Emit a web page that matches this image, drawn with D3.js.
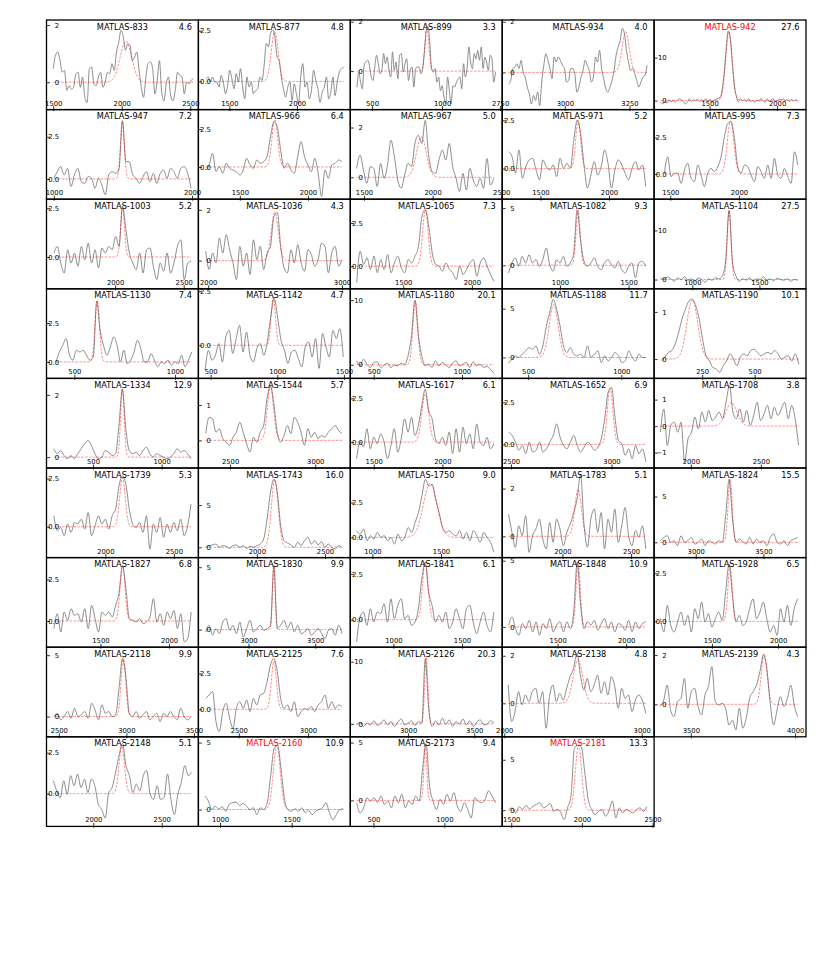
<!DOCTYPE html>
<html>
<head>
<meta charset="utf-8">
<script src="https://cdnjs.cloudflare.com/ajax/libs/d3/7.8.5/d3.min.js"></script>
<style>
  body { margin: 0; background: #fff; }
  svg { display: block; }
  text { font-family: "DejaVu Sans", sans-serif; }
</style>
</head>
<body>
<svg class="chart" width="831" height="955"></svg>
<script>
// Galaxias, SNR y marcadas en rojo
var names = ["MATLAS-833","MATLAS-877","MATLAS-899","MATLAS-934","MATLAS-942",
  "MATLAS-947","MATLAS-966","MATLAS-967","MATLAS-971","MATLAS-995",
  "MATLAS-1003","MATLAS-1036","MATLAS-1065","MATLAS-1082","MATLAS-1104",
  "MATLAS-1130","MATLAS-1142","MATLAS-1180","MATLAS-1188","MATLAS-1190",
  "MATLAS-1334","MATLAS-1544","MATLAS-1617","MATLAS-1652","MATLAS-1708",
  "MATLAS-1739","MATLAS-1743","MATLAS-1750","MATLAS-1783","MATLAS-1824",
  "MATLAS-1827","MATLAS-1830","MATLAS-1841","MATLAS-1848","MATLAS-1928",
  "MATLAS-2118","MATLAS-2125","MATLAS-2126","MATLAS-2138","MATLAS-2139",
  "MATLAS-2148","MATLAS-2160","MATLAS-2173","MATLAS-2181"];

var snr = [4.6,4.8,3.3,4.0,27.6, 7.2,6.4,5.0,5.2,7.3, 5.2,4.3,7.3,9.3,27.5,
  7.4,4.7,20.1,11.7,10.1, 12.9,5.7,6.1,6.9,3.8, 5.3,16.0,9.0,5.1,15.5,
  6.8,9.9,6.1,10.9,6.5, 9.9,7.6,20.3,4.8,4.3, 5.1,10.9,9.4,13.3];

var flagged = ["MATLAS-942","MATLAS-2160","MATLAS-2181"];

// Limites de los ejes (velocidad km/s, flujo mJy)
var xDomains = [[1451,2559],[1271,2394],[345,1429],[2758,3345],[1089,2214],
  [947,2046],[1196,2311],[1400,2507],[1221,2329],[1382,2489],
  [1500,2607],[1927,3062],[1114,2221],[579,1686],[715,1847],
  [362,1116],[408,1548],[367,1228],[361,1176],[21,745],
  [161,1268],[2314,3206],[1329,2436],[2456,3212],[1738,2822],
  [1571,2679],[1571,2686],[839,1946],[1561,2668],[2692,3815],
  [1107,2214],[2624,3763],[686,1793],[1096,2204],[1063,2211],
  [2409,3533],[2208,3306],[2563,3711],[1985,3090],[3324,4052],
  [1658,2768],[849,1909],[337,1408],[1436,2511]];

var yDomains = [[-0.96,2.18],[-1.39,3.03],[-1.56,2.07],[-1.47,2.07],[-2.1,18.75],
  [-1.2,4.11],[-2.13,3.79],[-0.88,2.72],[-1.58,3.05],[-1.73,4.41],
  [-1.63,2.96],[-1.11,2.42],[-1.31,3.88],[-2.06,5.78],[-1.89,16.35],
  [-1.06,4.7],[-1.53,2.61],[-2.1,11.74],[-2.14,7.04],[-0.41,1.49],
  [-0.35,2.53],[-0.78,1.75],[-1.48,3.64],[-1.4,3.92],[-1.58,1.8],
  [-1.6,3.05],[-1.22,9.4],[-1.45,4.98],[-0.89,2.86],[-1.67,8.12],
  [-1.58,3.82],[-1.41,5.77],[-1.5,3.39],[-1.53,5.23],[-1.34,3.31],
  [-1.65,5.65],[-1.92,4.33],[-2.09,12.35],[-1.41,2.36],[-1.32,2.32],
  [-2.0,3.47],[-1.26,5.43],[-2.25,5.5],[-1.61,7.28]];

var xTicks = [[1500,2000,2500],[1500,2000],[500,1000],[2750,3000,3250],[1500,2000],
  [1000,2000],[1500,2000],[1500,2000,2500],[1500,2000],[1500,2000],
  [2000,2500],[2000,3000],[1500,2000],[1000,1500],[1000,1500],
  [500,1000],[500,1000,1500],[500,1000],[500,1000],[250,500],
  [500,1000],[2500,3000],[1500,2000],[2500,3000],[2000,2500],
  [2000,2500],[2000,2500],[1000,1500],[2000,2500],[3000,3500],
  [1500,2000],[3000,3500],[1000,1500],[1500,2000],[1500,2000],
  [2500,3000,3500],[2500,3000],[3000,3500],[2000,3000],[3500,4000],
  [2000,2500],[1000,1500],[500,1000],[1500,2000,2500]];

var yTicks = [[0,2],[0,2.5],[0,2],[0,2],[0,10],
  [0,2.5],[0,2.5],[0,2],[0,2.5],[0,2.5],
  [0,2.5],[0,2],[0,2.5],[0,5],[0,10],
  [0,2.5],[0,2.5],[0,10],[0,5],[0,1],
  [0,2],[0,1],[0,2.5],[0,2.5],[-1,0,1],
  [0,2.5],[0,5],[0,2.5],[0,2],[0,5],
  [0,2.5],[0,5],[0,2.5],[0,5],[0,2.5],
  [0,5],[0,2.5],[0,10],[0,2],[0,2],
  [0,2.5],[0,5],[0,5],[0,5]];

// Primer y ultimo canal de cada espectro
var velRange = [[1500,2522],[1328,2345],[393,1381],[2783,3318],[1138,2153],
  [1000,1993],[1250,2250],[1446,2446],[1268,2268],[1457,2429],
  [1554,2554],[1982,3000],[1161,2161],[625,1625],[763,1785],
  [409,1083],[458,1495],[403,1180],[395,1132],[56,710],
  [214,1214],[2357,3157],[1375,2375],[2488,3171],[1783,2769],
  [1625,2625],[1625,2625],[886,1886],[1607,2607],[2739,3754],
  [1161,2161],[2679,3701],[732,1732],[1143,2143],[1111,2148],
  [2464,3478],[2261,3246],[2611,3648],[2029,3029],[3354,4012],
  [1708,2719],[895,1860],[382,1361],[1483,2460]];

// Flujo por canal
var flux = [
  [0.47,0.94,1.06,0.76,0.35,0.41,-0.29,-0.12,-0.24,-0.18,0.29,0.35,-0.18,0.18,-0.53,-0.71,0.47,0.53,-0.06,-0.12,0.18,0.35,-0.18,0,0.35,0.29,0.65,0.41,1.06,1.41,1.82,1.59,1.12,1.35,1.29,0.76,0.88,1.06,0.41,-0.18,-0.53,0.18,0.65,0.71,0.47,-0.41,0.06,0.76,-0.35,-0.65,-0.06,0.18,-0.47,-0.65,-0.29,0.35,0.24,0.18,-0.41,0,-0.06,0.06,0.12],
  [0.13,0.22,-0.03,0.22,-0.03,-0.03,-0.28,0.30,-0.03,-0.61,-0.20,0.55,0.13,-0.36,0.38,-0.03,0.63,-0.28,-0.86,0.22,-0.28,-0.03,-0.61,-0.45,-0.36,0.22,0.05,0.79,1.87,1.71,2.37,2.53,2.20,1.21,1.04,0.22,-0.36,-0.78,-0.28,-0.03,-0.94,-0.12,-0.61,-1.11,0.22,0.88,-0.28,-0.03,-0.86,-0.45,0.55,0.05,-0.36,-1.03,-0.53,-0.28,0.22,-0.86,-0.53,0.22,-0.70,-0.03,0.46,0.63,0.71],
  [-0.65,-0.04,-0.45,-0.72,0.23,0.37,0.44,0.23,-0.24,-0.38,0.16,0.64,0.30,-0.11,0.03,0.71,0.30,0.57,0.03,-0.24,0.78,0.03,0.37,-0.31,0.64,0.71,-0.04,0.30,0.50,-0.38,0.03,0.16,-0.65,0.10,0.16,0.16,-0.11,0.10,0.84,1.66,1.80,1.12,0.10,-0.04,0.10,-0.45,-0.24,-0.79,-0.59,-1.06,-1.33,-0.24,-0.79,-1.33,-0.59,-0.65,-0.45,-0.31,-0.24,-0.72,0.30,-0.24,0.10,0.98,0.37,0.10,0.71,0.50,0.84,0.44,0.98,0.10,0.57,0.37,0.03,0.64,0.50,-0.45,-0.04],
  [-0.45,-0.32,0.15,0.21,0.34,0.15,0.48,0.01,-0.19,-0.58,-0.85,-1.25,-0.91,-1.11,-0.78,-1.31,-0.38,0.28,0.74,0.48,0.15,-0.25,0.61,0.41,0.61,0.48,0.28,0.15,-0.38,-0.32,0.15,0.15,-0.05,-0.78,-0.58,-0.19,0.08,0.48,0.28,0.08,-0.38,-0.19,0.61,0.41,0.87,0.15,-0.25,-0.65,-0.78,-0.58,-0.32,0.08,0.68,1.01,1.27,1.74,1.54,0.87,0.41,0.08,0.15,-0.05,-0.32,-0.58,-0.38,-0.19,-0.12,0.28],
  [-0.4,-0.8,-0.2,-0.6,0.2,-0.4,0.2,-0.4,0,0.4,0.2,-0.2,-0.8,-0.4,0.4,-0.2,0.2,0,0.3,-0.2,0.2,0,0.4,-0.3,0.3,-0.5,0.1,0.2,0.6,0.7,2.4,6.4,12.0,16.2,14.5,8.8,3.4,0.9,-0.3,0.4,0,0.2,-0.2,0.4,-0.2,0,-0.4,0.2,-0.2,0.5,0,-0.4,0.4,-0.2,0.2,0.4,-0.2,0,0.3,0.2,0.4,0,0.2,-0.2,0.3,-0.1,0.2,-0.2],
  [0.04,0.43,0.73,0.24,0.63,-0.45,0.24,0.63,-0.16,-0.26,0.14,0.04,-0.55,0.04,-0.35,-0.94,0.24,0.43,0.33,0.6,3.46,1.02,1.02,0.24,0.04,-0.26,0.14,0.43,-0.16,0.33,-0.26,0.33,0.53,0.04,0.63,0.43,0.04,0.63,0.73,0.33,-0.55],
  [-0.2,0.13,0.9,-0.31,0.02,-0.42,0.24,-0.09,-0.2,-0.31,-0.53,-0.2,0.57,0.13,-0.09,0.46,0.24,0.35,0.68,2.0,2.98,2.65,1.1,-0.09,0.24,-0.2,-0.42,0.68,1.67,0.68,0.13,-0.31,0.57,-0.42,-1.95,-0.2,-0.75,0.13,0.24,0.46,0.35],
  [0.36,0.89,0.29,-0.24,0.43,0.36,-0.37,0.56,-0.04,0.49,1.49,0.83,-0.11,-0.44,0.09,0.56,0.43,1.36,1.69,1.36,2.29,0.89,0.23,0.16,0.69,1.09,0.69,1.36,0.43,-0.04,-0.57,0.16,-0.51,0.36,-0.11,-0.37,-0.04,-0.44,0.76,-0.31,-0.04],
  [0.87,0.62,-0.24,0.96,-0.5,0.1,0.45,0.53,-0.07,-0.58,0.45,0.1,-0.07,0.19,-0.41,0.53,0.02,0.27,0.02,1.47,2.5,1.81,0.19,-1.01,-0.33,0.36,-0.33,0.1,0.96,0.27,-1.01,-0.07,0.45,0.19,-0.24,-0.58,0.02,0.36,-0.07,0.19,-0.92],
  [0.05,1.18,-0.18,0.05,0.05,-0.64,0.27,0.73,-0.3,-0.52,0.61,-0.07,-0.86,0.05,0.39,0.16,0.5,1.18,2.55,3.45,3.57,2.45,0.5,0.05,0.61,0.5,-0.07,-0.52,0.5,0.16,-0.3,0.61,-0.3,1.07,-0.07,-0.3,0.39,-0.18,-0.64,1.52,0.61],
  [0.2,0.54,-0.31,-0.82,0.37,-0.31,0.2,-0.48,0.54,-0.14,0.71,-0.31,0.37,-0.56,0.46,0.2,0.54,0.37,1.05,0.54,2.59,1.39,0.2,-0.31,-0.65,0.2,-0.82,0.37,0.46,-0.48,-1.16,-0.31,-0.73,0.2,-0.82,-0.31,0.54,0.88,-1.16,-0.31,-0.22],
  [0.37,-0.35,0.3,-0.09,0.89,0.3,1.02,0.43,-0.09,-0.75,0.56,-0.22,0.3,-0.55,0.82,0.04,0.56,-0.35,0.3,0.56,1.74,1.9,0.56,-0.29,-0.48,0.43,-0.09,0.63,-0.09,-0.42,0.43,0.24,-0.22,0.04,0.69,0.56,-0.48,0.3,0.56,-0.22,0.04],
  [-0.96,0.87,0.1,0.48,-0.19,0.58,-0.38,0.38,-0.19,0.67,-0.38,0.19,0.58,-0.1,-0.38,0.38,0.19,0.58,1.15,2.88,3.27,2.31,0.77,0.1,0,-0.29,0.19,-0.19,-0.38,-0.77,0,-0.48,-0.19,0.19,0.38,-0.58,0.19,0.48,0,-0.48,-0.87],
  [-0.67,0.2,0.64,-0.09,0.78,0.2,0.93,0.2,0.49,-0.09,0.49,1.51,0.06,-0.52,0.49,0.2,0.78,-0.09,0.2,1.08,4.85,2.21,0.35,-0.09,0.2,0.64,-0.09,-0.38,0.2,0.49,0.06,-0.23,0.35,-0.38,-0.67,-0.09,0.2,-1.1,0.2,0.35,-0.09],
  [0.34,0,0.54,0.14,-0.34,0.34,0,0.54,-0.14,0.14,-0.34,0.34,0,-0.54,0.14,-0.14,0.34,0.14,0.68,4.0,14.05,3.5,0.68,-0.34,0.14,-0.14,0.34,-0.34,0.14,0,0.54,-0.14,0.14,-0.27,0.27,0,-0.14,0.14,-0.34,0,-0.14],
  [0,0.64,1.07,1.5,0.43,0.11,0.75,0.64,0.75,0.43,0.11,0.32,3.91,2.03,1.07,0.43,0.96,1.6,1.07,0,0.75,-0.11,0.11,0.64,1.39,0.85,0,0,0.53,0.11,-0.32,0,-0.11,0.11,-0.21,0,-0.11,0.43,-0.32,0.11,0.64],
  [-1.15,-0.23,-0.69,-0.46,0.08,-0.77,0.38,0.69,-0.38,0.31,0.92,-0.31,0.61,-0.46,-0.77,-0.15,0.08,-0.46,0.15,1.3,2.19,1.3,0.23,-0.23,-0.84,-0.31,-0.23,-0.61,-1.0,-0.08,0.15,-0.54,0.31,-1.07,0.54,-0.08,-0.54,0.69,0.31,0.77,-0.54],
  [0.62,-0.15,0.87,0.1,-0.41,0.36,0.46,-0.41,-0.05,0.26,-0.41,-0.05,-0.15,0.26,0.05,1.38,4.5,10.0,4.5,1.38,-0.15,0.1,-0.41,0.62,-0.15,0.36,-0.05,-0.41,0.26,0.62,-0.15,0.1,0.36,-0.41,0.46,-0.15,0.1,-0.41,-0.26,-0.67,-1.28],
  [-0.58,-0.17,0.17,0,0.34,0.68,1.02,0.85,1.19,0.34,1.19,3.23,4.59,5.95,4.93,3.23,1.19,0.51,1.02,0.34,0.17,0.34,0,1.19,0,0.34,0.68,-0.51,0.17,-0.34,0,0.51,0.17,-0.51,-0.34,0.68,0,-0.34,0.34,0,0],
  [-0.04,0.04,0.14,0.18,0.32,0.56,0.85,1.06,1.23,1.27,1.13,0.85,0.42,0.07,-0.04,-0.18,-0.21,-0.28,-0.14,-0.04,0.11,0,-0.14,0.04,0.11,0.07,0.18,0.21,0.14,0.07,0.11,0.14,0.11,0.18,0.11,0,0.04,0.07,-0.04,0.11,-0.11],
  [0.27,0.11,0.21,0.05,-0.05,0.05,-0.05,0.11,0.27,0.43,0.53,0.37,0.11,-0.05,0,0.21,0.16,0.05,0.11,1.02,2.19,0.91,0.21,0.11,0.16,0.05,0.21,0.32,0.11,0,0.11,0.05,0,-0.05,0,0.11,0.27,0.16,0.21,0.11,-0.05],
  [0.19,0.65,0.61,0.23,0.33,0.05,-0.05,-0.14,0.09,0.23,0.51,0.23,-0.09,-0.33,0.09,-0.05,0.23,0.42,1.17,1.54,1.03,0.23,-0.05,0.14,0.42,0.19,0.65,0.51,0.23,-0.14,0.33,0.09,0.23,0.05,0.14,0.09,0.23,0.33,0.42,0.28,0.19],
  [-0.95,0,-0.28,0.76,-0.38,0.28,-0.09,0.47,0,-0.95,-0.19,0.76,-0.57,0.19,1.33,0.57,1.42,0.38,0.95,2.08,3.03,1.8,1.33,0.19,-0.09,0.28,-0.19,0.57,-0.66,0.76,-0.57,0.85,-0.09,0.47,-0.38,1.04,0,-0.19,0.28,-0.38,-0.09],
  [0.73,0.53,0.14,-0.35,-0.06,-0.55,0.14,-0.45,-0.35,0.14,-0.45,-0.26,0.14,0.53,1.22,0.43,-0.06,-0.26,0.14,0.53,-0.06,-0.45,-0.16,0.14,-0.06,-0.35,-0.16,0.33,1.52,3.09,3.39,1.61,0.24,0.04,-0.65,-0.26,-0.85,-0.06,-0.55,-0.26,-1.04],
  [-0.23,0.65,-0.73,0.03,0.15,-0.23,0.15,-1.35,-0.48,-0.23,0.34,-0.1,0.53,0.15,0.59,0.21,0.34,0.53,0.28,0.9,1.53,0.53,0.28,0.65,0.15,0.59,0.03,0.4,0.9,0.21,0.46,0.78,0.28,0.71,0.4,0.65,0.9,0.28,0.78,0.28,-0.73],
  [0.57,-0.21,-0.03,-0.47,0.14,-0.29,0.22,0.14,0.4,-0.12,0.74,-0.47,0.05,0.57,0.14,0.4,-0.12,0.57,0.91,2.12,2.64,2.21,0.91,0.14,-0.03,0.22,-0.29,0.57,-1.16,0.14,-0.29,0.48,-0.55,0.14,-0.29,0.22,-0.21,0.4,-0.47,0.05,1.17],
  [0,0.2,0.28,0.39,0,0.2,0.12,-0.12,0.2,0.28,0,0.2,-0.12,0.12,0,0.2,0.39,0.98,3.35,6.5,8.07,6.5,2.56,0.79,0.51,0.28,0,0.59,0.2,0.79,1.18,0.39,0.79,0.28,0.67,0,0.39,0,-0.2,0.2,0],
  [0.48,0.24,0.6,-0.24,0.12,-0.12,0.36,0,0.12,-0.24,0,-0.48,0.24,-0.24,0,0.71,0.36,1.07,1.79,2.98,4.17,3.69,3.81,2.74,1.79,0.71,0.36,0.48,0.24,0.12,0.48,-0.12,0.36,-0.24,0.48,0.12,-0.36,0.36,0,-0.36,-1.07],
  [0.93,0.17,-0.46,0.44,0.03,0.86,-0.67,0.03,0.31,0.72,-0.11,-0.53,0.58,-0.25,0.72,0.31,-0.39,0.17,0.51,1.0,1.56,2.6,0.51,-0.46,0.72,1.14,0.17,1.0,-0.53,0.72,0.17,1.14,-0.25,0.44,1.21,0.03,-0.39,0.24,-0.04,0.44,-0.53],
  [0.18,0.54,0.72,0,0.18,-0.36,0.72,0,0.18,0.54,-0.18,0,0.36,-0.36,0.18,0,-0.18,0.18,0,2.9,6.88,2.54,0,0.36,0.07,-0.18,0.54,-0.18,0.36,0,0.18,-0.36,0.54,0.91,0,-0.18,0.18,-0.36,0.18,0.36,0.54],
  [-0.46,0.44,-0.66,0.54,0.04,0.74,0.34,0.44,-0.06,0.74,-0.46,0.94,0.14,-0.66,0.54,0.34,0.54,0.24,0.94,1.74,3.34,1.94,0.14,0.04,-0.06,0.14,-0.16,-0.06,0.24,1.34,-0.06,0.44,-0.26,0.54,0.14,0.64,-0.46,0.44,-1.26,-1.06,0.54],
  [-0.19,0.35,-0.45,0.08,-0.32,0.61,0.88,-0.05,0.35,-0.32,0.61,-0.59,0.08,0.74,-0.19,0.08,0.35,-0.05,0.08,0.35,5.13,0.08,0.35,0.74,0.08,0.61,-0.19,0.35,-0.32,-0.19,0.08,-0.45,-0.19,0.08,-0.32,-0.72,-0.05,0.08,-0.45,0.35,-0.32],
  [-1.21,0.14,0.42,-0.31,0.6,-0.13,0.42,0.33,0.87,-0.13,1.14,0.05,0.78,1.14,0.05,0.24,-0.31,-0.13,0.6,2.23,3.13,1.49,0.78,-0.13,0.24,-0.13,0.42,-0.49,-0.13,0.6,0.05,-0.49,0.6,0.78,-0.13,-0.76,-0.13,0.42,-0.31,-0.67,0.42],
  [0.13,0.75,-0.13,-0.63,0.25,-0.13,0.5,-0.38,0.38,-0.63,0.25,-0.13,0.63,-0.38,0.13,0.38,-0.38,0.38,-0.13,1.13,4.88,1.63,-0.13,0.38,0.13,0.5,-0.25,0.25,0.63,-0.13,0.38,-0.38,0.25,0.13,-0.25,0.5,-0.38,0.38,-0.13,0.25,0.38],
  [0.14,-0.55,0.83,-0.21,-0.55,-0.03,0.48,-0.21,0.31,-0.55,0.66,0.14,1.0,-0.03,0.4,-0.29,0.14,0.48,0.05,1.52,2.98,1.34,-0.03,0.31,-0.21,-0.03,0.66,1.17,0.14,0.48,1.0,0.14,-0.55,-0.21,-0.72,0.66,-0.03,0.83,-0.21,0.66,1.17],
  [0,0.27,-0.27,0,0.41,-0.14,0.68,0,0.14,0.41,-0.14,1.08,0.54,-0.27,0.95,0.27,0.41,0,0.14,2.3,4.73,3.24,0.27,0,0.41,-0.14,0.14,0.41,-0.27,0,0.27,-0.41,0.27,0,0.41,0,-0.27,0.68,0,-0.27,0],
  [0.76,1.0,1.23,-0.86,-1.55,-0.16,0.42,-0.62,-1.32,0.07,0.53,0.07,0.65,-0.16,0.76,0.3,1.0,1.11,1.92,3.08,3.54,2.62,0.76,0.07,0.3,-0.16,0.53,-0.51,-0.16,0.07,-0.05,0.19,-0.16,0.3,0.53,1.0,0.07,0.53,0.07,0.3,0.19],
  [-0.16,0.27,-0.43,0.11,-0.16,0.48,-0.27,0.11,0.64,-0.16,0.37,-0.43,0.27,0.8,-0.16,0.11,0.48,-0.27,0.37,0.11,10.5,2.5,-0.43,0.48,-0.16,0.91,-0.05,0.64,-0.43,0.37,-0.05,0.8,-0.16,0.48,-0.43,0.27,0.64,-0.16,-0.05,0.48,0.11],
  [0.77,-0.77,-0.32,0.49,-0.07,0.35,0.07,0.49,0.63,0,0.49,-1.05,0.28,0.77,0.07,0.42,0.14,0.63,1.12,1.47,2.1,1.19,0.56,1.05,0.49,0.77,1.19,0.42,0.91,0.35,1.12,0.7,-0.21,0.63,0.21,0.35,-0.35,0.14,0.35,0.14,-0.42],
  [-0.09,0.18,0.78,-0.24,-0.5,0.11,0.24,1.05,-0.16,0.51,0.65,-0.09,-0.43,0.38,0.72,1.53,0.11,-0.03,0.04,-0.16,-0.84,-0.64,-1.04,-0.16,-0.97,-0.57,0.24,0.51,0.78,1.32,2.0,1.46,0.04,-0.84,-0.23,0.31,-0.09,0.24,0.78,-0.03,-0.5],
  [0.79,0.17,-0.25,0.79,-0.04,1.1,0.48,1.2,0.37,0.89,0.06,0.89,0.48,-0.66,-0.97,-1.49,0.06,0.37,1.3,2.33,3.06,1.71,1.1,0.06,0.58,0.17,1.1,1.41,-0.04,-0.35,0.48,-0.35,-0.25,1.2,-0.35,-1.28,-0.04,0.68,1.71,1.1,1.3],
  [1.01,0.63,0,0.25,0.05,0.2,-0.13,0.38,0.51,0.56,0.3,0.45,0.25,0,0.13,-0.38,0.13,0,0.51,2.53,4.55,4.8,3.03,0.76,0,-0.13,0.05,-0.13,0.13,-0.25,-0.05,-0.38,-0.13,0,0.13,0.51,-0.25,-0.76,-0.38,0,0.05],
  [-0.2,-1.08,-0.64,0.23,-0.06,0.23,-0.2,0.38,-0.35,-0.06,-0.64,0.38,-0.2,0.53,-0.64,-0.06,-0.35,0.38,-0.06,2.75,4.91,1.26,-0.06,-0.79,0.09,-0.35,0.53,-0.06,0.67,-0.5,-0.94,-0.2,-0.79,-1.52,0.23,-0.06,-0.2,0.09,0.82,0.38,-0.2],
  [0.07,0.23,-0.27,0.34,0.07,0.47,0.13,0.4,0.57,0.74,0.23,0.4,0.67,-0.1,0.07,-0.2,-0.94,0.23,1.41,6.11,6.44,6.27,3.76,1.07,0.07,-0.44,-0.1,0.07,-0.6,-0.1,0.91,-0.77,0.23,-0.27,0.07,-0.1,-0.27,0.07,0.23,-0.1,0.34]
];

// Ajuste gaussiano: amplitud, centro, sigma
var fitAmp = [1.44,2.45,1.73,1.6,16.0, 3.39,3.14,1.63,2.5,3.64, 2.58,1.9,3.27,4.85,14.05,
  3.96,2.23,9.85,5.44,1.25, 2.19,1.54,2.75,3.33,0.88, 2.55,8.07,3.88,1.97,6.96,
  3.34,5.13,3.13,5.0,2.9, 4.86,3.36,10.8,1.82,2.07, 2.91,4.8,4.91,6.44];
var fitCen = [2030,1835,892,3235,1643, 1496,1757,1918,1775,1939, 2054,2498,1661,1132,1274,
  614,970,736,637,203, 714,2737,1875,2993,2290, 2125,2132,1421,2114,3254,
  1661,3190,1232,1650,1637, 2978,2754,3137,2536,3852, 2208,1396,866,1976];
var fitSig = [42,25,14,14,24, 14,21,36,18,24, 14,27,20,15,14,
  11,16,14,24,26, 13,18,25,14,40, 20,25,50,24,15,
  18,10,20,15,16, 17,18,12,35,14, 20,24,10,22];

// Tamaño de la grilla
var margin = {top: 20, left: 46.5},
    panelW = 151.9,
    panelH = 89.6,
    ncol = 5;

var svg = d3.select(".chart");

names.forEach(function(name, i) {
  var col = i % ncol, row = Math.floor(i / ncol);
  var x0 = margin.left + col * panelW,
      y0 = margin.top + row * panelH;

  var x = d3.scaleLinear().domain(xDomains[i]).range([x0, x0 + panelW]);
  var y = d3.scaleLinear().domain(yDomains[i]).range([y0 + panelH, y0]);

  var g = svg.append("g").attr("class", "panel");

  var v0 = velRange[i][0], v1 = velRange[i][1], n = flux[i].length;
  var spec = flux[i].map(function(f, k) { return [v0 + (v1 - v0) * k / (n - 1), f]; });

  var line = d3.line()
      .x(function(d) { return x(d[0]); })
      .y(function(d) { return y(d[1]); });

  g.append("path")
      .datum(spec)
      .attr("d", line.curve(d3.curveMonotoneX))
      .attr("fill", "none")
      .attr("stroke", "#7a7a7a")
      .attr("stroke-width", 0.85);

  // modelo del ajuste
  var model = d3.range(0, 241).map(function(k) {
    var v = v0 + (v1 - v0) * k / 240;
    return [v, fitAmp[i] * Math.exp(-0.5 * Math.pow((v - fitCen[i]) / fitSig[i], 2))];
  });
  g.append("path")
      .datum(model)
      .attr("d", line.curve(d3.curveLinear))
      .attr("fill", "none")
      .attr("stroke", "red")
      .attr("stroke-opacity", 0.5)
      .attr("stroke-width", 0.9)
      .attr("stroke-dasharray", "2.6,1.3");

  // Eje x (etiquetas dentro del panel)
  var xAxis = d3.axisTop(x)
      .tickValues(xTicks[i])
      .tickSize(3.5)
      .tickSizeOuter(0)
      .tickFormat(d3.format("d"));
  g.append("g")
      .attr("transform", "translate(0," + (y0 + panelH) + ")")
      .call(xAxis)
      .attr("font-size", 6.8)
      .attr("font-family", "DejaVu Sans")
      .call(function(a) { a.select(".domain").remove(); })
      .call(function(a) {
        a.selectAll("line").attr("stroke-width", 0.8).attr("y1", 1.5);
        a.selectAll("text").attr("y", -4).attr("dy", 0);
      });

  // Eje y
  var decimals = yTicks[i].some(function(t) { return t % 1 !== 0; });
  var yAxis = d3.axisRight(y)
      .tickValues(yTicks[i])
      .tickSize(3.5)
      .tickSizeOuter(0)
      .tickFormat(d3.format(decimals ? ".1f" : "d"));
  g.append("g")
      .attr("transform", "translate(" + x0 + ",0)")
      .call(yAxis)
      .attr("font-size", 6.8)
      .attr("font-family", "DejaVu Sans")
      .call(function(a) { a.select(".domain").remove(); })
      .call(function(a) {
        a.selectAll("line").attr("stroke-width", 0.8);
        a.selectAll("text").attr("x", 12.5).attr("text-anchor", "end");
      });

  // Marco
  g.append("rect")
      .attr("x", x0).attr("y", y0)
      .attr("width", panelW).attr("height", panelH)
      .attr("fill", "none")
      .attr("stroke", "black")
      .attr("stroke-width", 1.3);

  // Titulo y SNR
  g.append("text")
      .attr("x", x0 + panelW / 2)
      .attr("y", y0 + 9.5)
      .attr("text-anchor", "middle")
      .attr("font-size", 8.2)
      .attr("fill", flagged.indexOf(name) >= 0 ? "red" : "black")
      .text(name);
  g.append("text")
      .attr("x", x0 + panelW - 6.5)
      .attr("y", y0 + 9.5)
      .attr("text-anchor", "end")
      .attr("font-size", 8.2)
      .text(snr[i].toFixed(1));
});
</script>
</body>
</html>
